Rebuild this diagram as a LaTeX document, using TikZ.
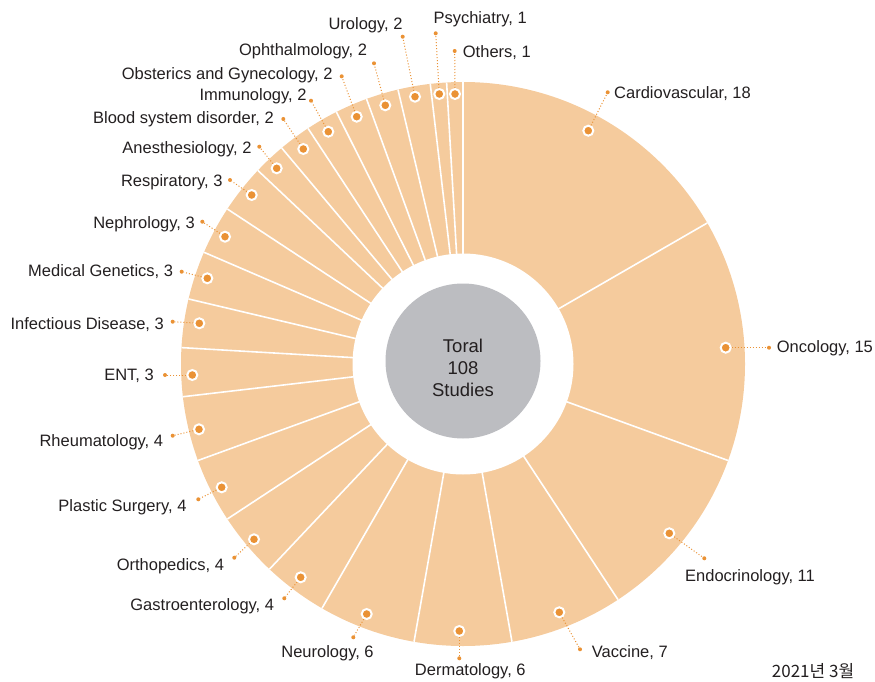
\documentclass[tikz,border=0pt]{standalone}
\usepackage{fontspec}
\usepackage{tikz}
\setmainfont{Liberation Sans}
\newfontfamily\krfont{Noto Sans CJK KR}
\newcommand{\ringOuter}[0]{282}
\newcommand{\ringInner}[0]{110.5}
\newcommand{\coreRadius}[0]{77.5}
\newcommand{\labelFont}[0]{\fontsize{16.5}{19}\selectfont}
\definecolor{ringpeach}{HTML}{F5CB9D}
\definecolor{dotorange}{HTML}{EA9235}
\definecolor{coregray}{HTML}{BCBDC1}
\definecolor{inkgray}{HTML}{231F20}

\begin{document}
\begin{tikzpicture}[x=1pt, y=-1pt]
  \tikzset{
    dot/.style={circle, fill=dotorange, draw=white, line width=2pt, minimum size=10pt, inner sep=0pt},
    leadend/.style={circle, fill=dotorange, minimum size=4pt, inner sep=0pt},
    leader/.style={dotorange, line width=1pt, dash pattern=on 1pt off 2pt},
    lab/.style={inner sep=0pt, text=inkgray, font=\labelFont},
    sliceline/.style={white, line width=1.6pt}
  }
  \useasboundingbox (0,0) rectangle (875,682);
  \coordinate (ctr) at (463,364);
  % ring and slice borders
  \fill[ringpeach] (ctr) circle (\ringOuter);
  \foreach \u in {0,18,33,44,51,57,63,67,71,75,79,82,85,88,91,94,96,98,100,102,104,106,107}{
    \pgfmathsetmacro{\ang}{\u*10/3-90}
    \draw[sliceline] ([shift={(\ang:60)}]ctr) -- ([shift={(\ang:\ringOuter)}]ctr);
  }
  \fill[white] (ctr) circle (\ringInner);
  \fill[coregray] (463,361) circle (\coreRadius);
  \node[align=center, text=inkgray, font=\fontsize{18.5}{22}\selectfont] (total) at (463,368) {Toral\\108\\Studies};
  % markers
  \node[dot] (dot-cardio) at (588.3,130.7) {};
  \node[dot] (dot-onco) at (725.7,347.7) {};
  \node[dot] (dot-endo) at (669.3,533.3) {};
  \node[dot] (dot-vacc) at (559.3,612.3) {};
  \node[dot] (dot-derma) at (459.3,631) {};
  \node[dot] (dot-neuro) at (366.7,614) {};
  \node[dot] (dot-gastro) at (300.7,577.3) {};
  \node[dot] (dot-ortho) at (254,539.3) {};
  \node[dot] (dot-plastic) at (221.7,487.3) {};
  \node[dot] (dot-rheuma) at (199,429.3) {};
  \node[dot] (dot-ent) at (192.3,375) {};
  \node[dot] (dot-infect) at (199.3,323.3) {};
  \node[dot] (dot-genet) at (207.3,278.3) {};
  \node[dot] (dot-nephro) at (225,236.7) {};
  \node[dot] (dot-resp) at (251.7,195) {};
  \node[dot] (dot-anest) at (276.7,168.3) {};
  \node[dot] (dot-blood) at (303.3,149) {};
  \node[dot] (dot-immuno) at (328.3,131.7) {};
  \node[dot] (dot-obgyn) at (356.7,116.7) {};
  \node[dot] (dot-ophth) at (385.3,105.3) {};
  \node[dot] (dot-uro) at (415,96.7) {};
  \node[dot] (dot-psych) at (439.3,94) {};
  \node[dot] (dot-others) at (455,94) {};
  % leader ends
  \node[leadend] (end-cardio) at (607.7,92.3) {};
  \node[leadend] (end-onco) at (769,347.7) {};
  \node[leadend] (end-endo) at (704.3,558.3) {};
  \node[leadend] (end-vacc) at (580,649.3) {};
  \node[leadend] (end-derma) at (459.3,658.3) {};
  \node[leadend] (end-neuro) at (353.3,637.3) {};
  \node[leadend] (end-gastro) at (284.3,598.3) {};
  \node[leadend] (end-ortho) at (234.3,557.7) {};
  \node[leadend] (end-plastic) at (198.3,499.3) {};
  \node[leadend] (end-rheuma) at (172.7,435.7) {};
  \node[leadend] (end-ent) at (165,375) {};
  \node[leadend] (end-infect) at (172.7,321.7) {};
  \node[leadend] (end-genet) at (181.7,271.7) {};
  \node[leadend] (end-nephro) at (202.3,221.7) {};
  \node[leadend] (end-resp) at (230,180) {};
  \node[leadend] (end-anest) at (259.3,146.7) {};
  \node[leadend] (end-blood) at (283.3,119) {};
  \node[leadend] (end-immuno) at (311,100.7) {};
  \node[leadend] (end-obgyn) at (341.7,76.3) {};
  \node[leadend] (end-ophth) at (374,63.3) {};
  \node[leadend] (end-uro) at (402.7,36.7) {};
  \node[leadend] (end-psych) at (435.7,33.3) {};
  \node[leadend] (end-others) at (454.7,51) {};
  % labels
  \node[lab, anchor=base west] (lab-cardio) at (614,98.3) {Cardiovascular, 18};
  \node[lab, anchor=base west] (lab-onco) at (776.7,352.3) {Oncology, 15};
  \node[lab, anchor=base west] (lab-endo) at (685,581.7) {Endocrinology, 11};
  \node[lab, anchor=base west] (lab-vacc) at (591.7,657.3) {Vaccine, 7};
  \node[lab, anchor=base] (lab-derma) at (470.3,675.7) {Dermatology, 6};
  \node[lab, anchor=base] (lab-neuro) at (327.5,657.3) {Neurology, 6};
  \node[lab, anchor=base east] (lab-gastro) at (274.3,610.7) {Gastroenterology, 4};
  \node[lab, anchor=base east] (lab-ortho) at (224.3,570.7) {Orthopedics, 4};
  \node[lab, anchor=base east] (lab-plastic) at (186.7,511) {Plastic Surgery, 4};
  \node[lab, anchor=base east] (lab-rheuma) at (163.3,446.7) {Rheumatology, 4};
  \node[lab, anchor=base east] (lab-ent) at (154,380) {ENT, 3};
  \node[lab, anchor=base east] (lab-infect) at (164,329.3) {Infectious Disease, 3};
  \node[lab, anchor=base east] (lab-genet) at (173.3,276.7) {Medical Genetics, 3};
  \node[lab, anchor=base east] (lab-nephro) at (195,228.3) {Nephrology, 3};
  \node[lab, anchor=base east] (lab-resp) at (222.7,186) {Respiratory, 3};
  \node[lab, anchor=base east] (lab-anest) at (251.7,153.3) {Anesthesiology, 2};
  \node[lab, anchor=base east] (lab-blood) at (274,124) {Blood system disorder, 2};
  \node[lab, anchor=base east] (lab-immuno) at (306.7,101) {Immunology, 2};
  \node[lab, anchor=base east] (lab-obgyn) at (332.7,79.3) {Obsterics and Gynecology, 2};
  \node[lab, anchor=base east] (lab-ophth) at (367.3,56) {Ophthalmology, 2};
  \node[lab, anchor=base east] (lab-uro) at (402.7,29.3) {Urology, 2};
  \node[lab, anchor=base west] (lab-psych) at (433.3,24) {Psychiatry, 1};
  \node[lab, anchor=base west] (lab-others) at (462.7,57.3) {Others, 1};
  \node[lab, anchor=base west, font=\krfont\fontsize{17}{20}\selectfont] (date) at (771.7,677) {2021년 3월};
  % leaders
  \foreach \n in {cardio,onco,endo,vacc,derma,neuro,gastro,ortho,plastic,rheuma,ent,infect,genet,nephro,resp,anest,blood,immuno,obgyn,ophth,uro,psych,others}
    \draw[leader] (dot-\n) -- (end-\n);
\end{tikzpicture}
\end{document}
